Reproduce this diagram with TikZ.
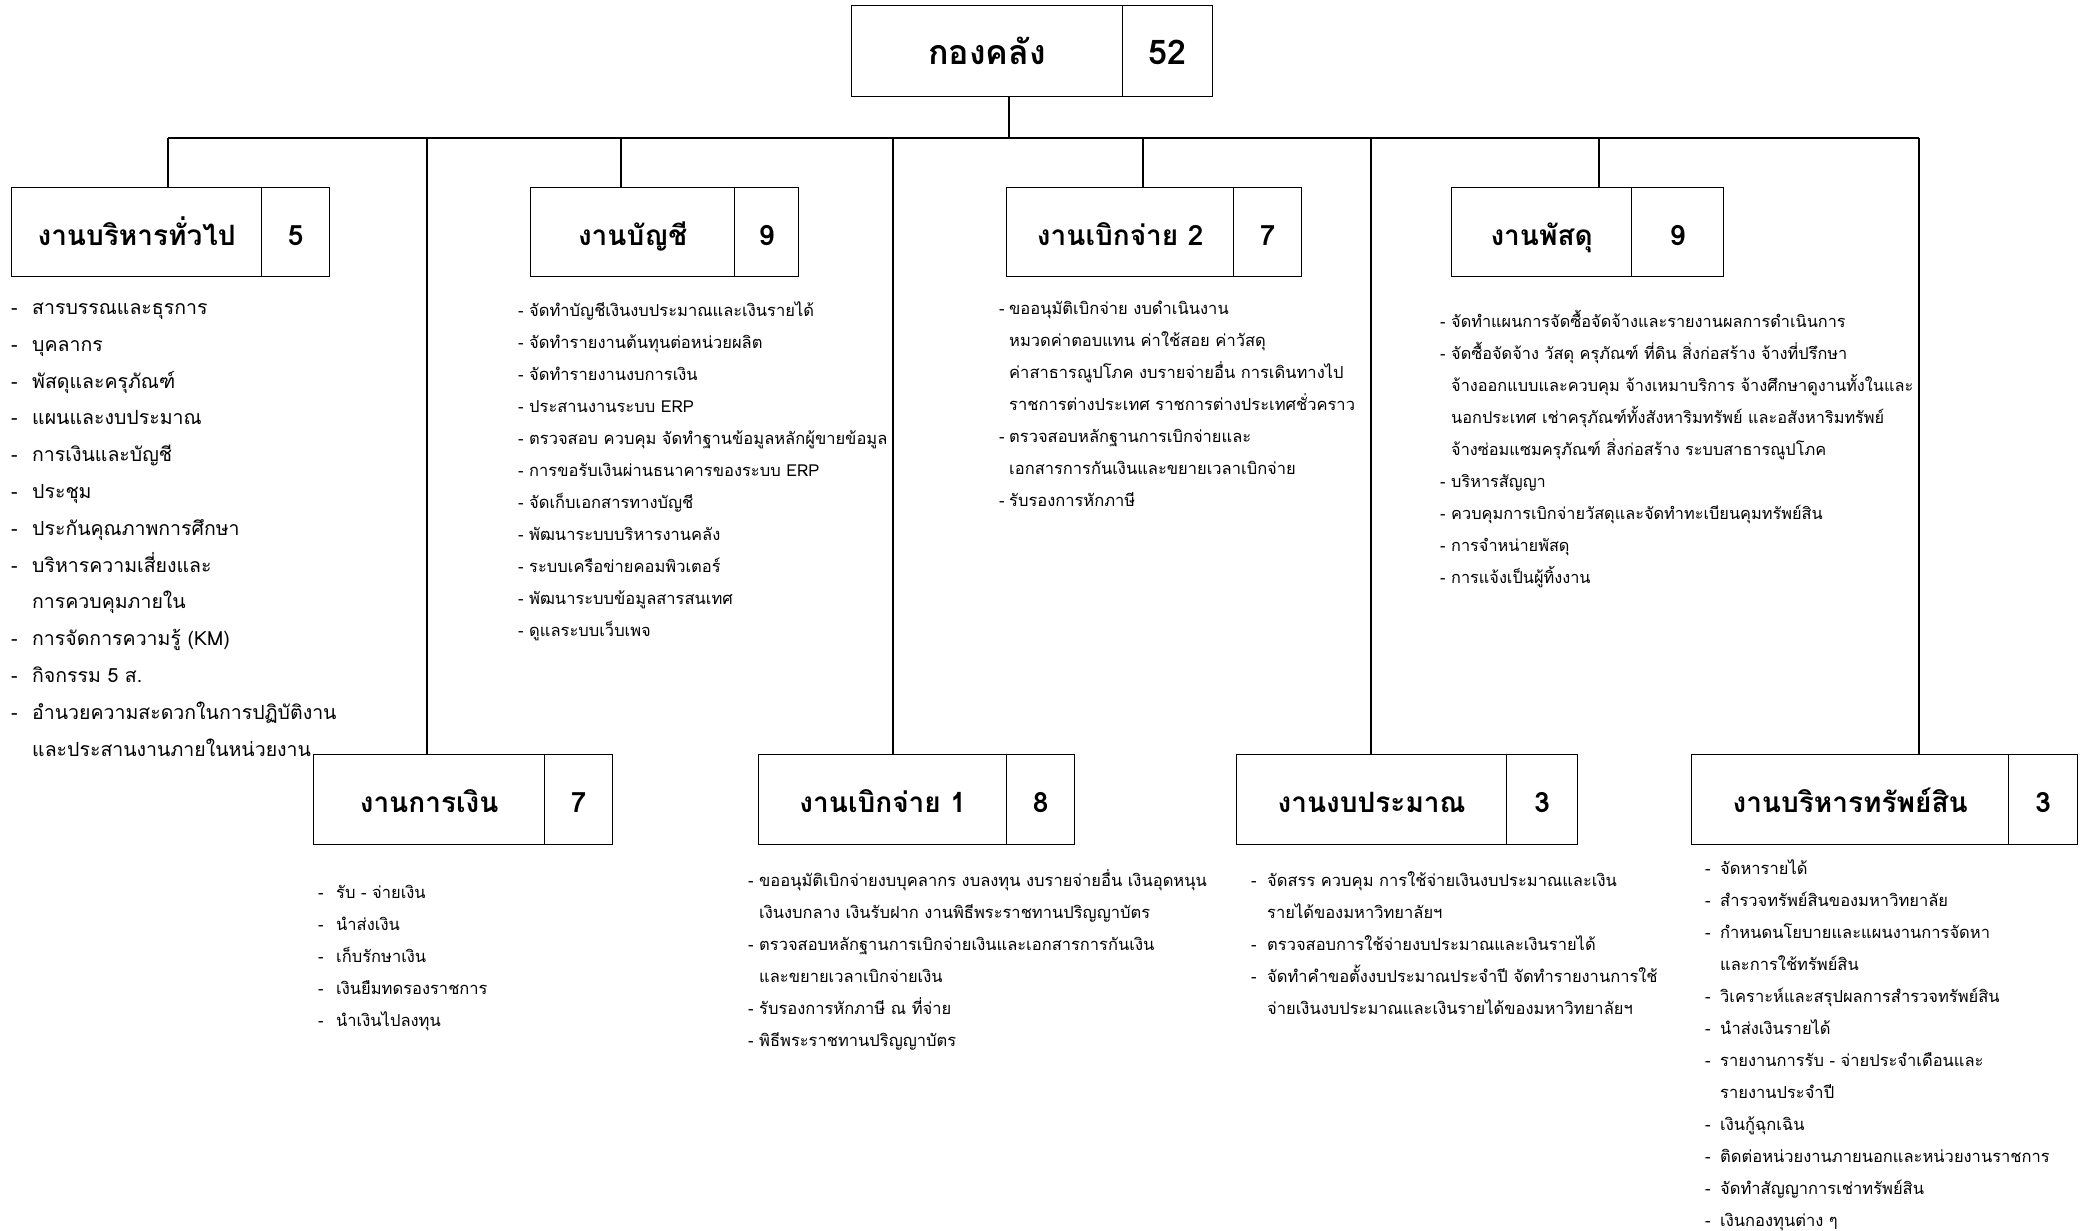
\documentclass[tikz,border=0pt]{standalone}
\usepackage{fontspec}
\setmainfont{Loma}[Script=Thai]
\usepackage{tikz}
\usetikzlibrary{calc}
\newlength{\dashw}
\newcommand{\itm}[1]{\makebox[\dashw][l]{-}#1}
\newcommand{\cnt}[1]{\hspace*{\dashw}#1}
\newcommand{\unitbox}[8]{
  \node[unit, minimum width=#3-#2, minimum height=#6-#5] (#1) at (#2,#5) {#7};
  \node[unit, minimum width=#4-#3, minimum height=#6-#5] (#1n) at (#3,#5) {#8};}
\tikzset{
  unit/.style={draw, line width=1.3pt, inner sep=0pt, anchor=north west,
    text height=26pt, text depth=0pt,
    font=\fontsize{28}{32}\selectfont\bfseries},
  head/.style={unit, text height=28pt, text depth=2pt,
    font=\fontsize{34}{38}\selectfont\bfseries},
  % lists are placed by the baseline of their last line
  duty/.style={inner sep=0pt, anchor=base west, align=left,
    font=\fontsize{16.5}{32}\selectfont,
    execute at begin node={\setlength{\dashw}{#1}}},
  link/.style={line width=1.2pt},
}
\begin{document}
\begin{tikzpicture}[x=1pt,y=-1pt]
  \useasboundingbox (0,0) rectangle (2081,1231);
  % head
  \node[head, minimum width=271, minimum height=91] (top) at (851,5) {กองคลัง};
  \node[head, minimum width=90, minimum height=91] (topn) at (1122,5) {52};
  % top row
  \unitbox{adm}{11}{261}{329}{187}{276}{งานบริหารทั่วไป}{5}
  \unitbox{acc}{530}{734}{798}{187}{276}{งานบัญชี}{9}
  \unitbox{pay2}{1006}{1233}{1301}{187}{276}{งานเบิกจ่าย 2}{7}
  \unitbox{sup}{1451}{1631}{1723}{187}{276}{งานพัสดุ}{9}
  % bottom row
  \unitbox{fin}{313}{544}{612}{754}{844}{งานการเงิน}{7}
  \unitbox{pay1}{758}{1006}{1074}{754}{844}{งานเบิกจ่าย 1}{8}
  \unitbox{bud}{1236}{1506}{1577}{754}{844}{งานงบประมาณ}{3}
  \unitbox{ast}{1691}{2008}{2077}{754}{844}{งานบริหารทรัพย์สิน}{3}

  % lines
  \coordinate (d0) at (1009,138);
  \coordinate (bus0) at (168,138);
  \coordinate (bus1) at (1919,138);
  \draw[link] (d0 |- top.south) -- (d0);
  \draw[link] (bus0) -- (bus1);
  \foreach \u/\x in {adm/168, fin/427, acc/621, pay1/893, pay2/1143, bud/1371, sup/1599, ast/1919}
    {\coordinate (d\u) at (\x,138);
     \draw[link] (d\u) -- (d\u |- \u.north);}

  % lists
  \node[duty=21pt, font=\fontsize{19.5}{36.8}\selectfont] (adml) at (11,756) {%
    \itm{สารบรรณและธุรการ}\\
    \itm{บุคลากร}\\
    \itm{พัสดุและครุภัณฑ์}\\
    \itm{แผนและงบประมาณ}\\
    \itm{การเงินและบัญชี}\\
    \itm{ประชุม}\\
    \itm{ประกันคุณภาพการศึกษา}\\
    \itm{บริหารความเสี่ยงและ}\\
    \cnt{การควบคุมภายใน}\\
    \itm{การจัดการความรู้ (KM)}\\
    \itm{กิจกรรม 5 ส.}\\
    \itm{อำนวยความสะดวกในการปฏิบัติงาน}\\
    \cnt{และประสานงานภายในหน่วยงาน}};
  \node[duty=11pt] (accl) at (518,636) {%
    \itm{จัดทำบัญชีเงินงบประมาณและเงินรายได้}\\
    \itm{จัดทำรายงานต้นทุนต่อหน่วยผลิต}\\
    \itm{จัดทำรายงานงบการเงิน}\\
    \itm{ประสานงานระบบ ERP}\\
    \itm{ตรวจสอบ ควบคุม จัดทำฐานข้อมูลหลักผู้ขายข้อมูล}\\
    \itm{การขอรับเงินผ่านธนาคารของระบบ ERP}\\
    \itm{จัดเก็บเอกสารทางบัญชี}\\
    \itm{พัฒนาระบบบริหารงานคลัง}\\
    \itm{ระบบเครือข่ายคอมพิวเตอร์}\\
    \itm{พัฒนาระบบข้อมูลสารสนเทศ}\\
    \itm{ดูแลระบบเว็บเพจ}};
  \node[duty=10pt] (pay2l) at (999,506) {%
    \itm{ขออนุมัติเบิกจ่าย งบดำเนินงาน}\\
    \cnt{หมวดค่าตอบแทน ค่าใช้สอย ค่าวัสดุ}\\
    \cnt{ค่าสาธารณูปโภค งบรายจ่ายอื่น การเดินทางไป}\\
    \cnt{ราชการต่างประเทศ ราชการต่างประเทศชั่วคราว}\\
    \itm{ตรวจสอบหลักฐานการเบิกจ่ายและ}\\
    \cnt{เอกสารการกันเงินและขยายเวลาเบิกจ่าย}\\
    \itm{รับรองการหักภาษี}};
  \node[duty=11pt, font=\fontsize{16.3}{32}\selectfont] (supl) at (1440,583) {%
    \itm{จัดทำแผนการจัดซื้อจัดจ้างและรายงานผลการดำเนินการ}\\
    \itm{จัดซื้อจัดจ้าง วัสดุ ครุภัณฑ์ ที่ดิน สิ่งก่อสร้าง จ้างที่ปรึกษา}\\
    \cnt{จ้างออกแบบและควบคุม จ้างเหมาบริการ จ้างศึกษาดูงานทั้งในและ}\\
    \cnt{นอกประเทศ เช่าครุภัณฑ์ทั้งสังหาริมทรัพย์ และอสังหาริมทรัพย์}\\
    \cnt{จ้างซ่อมแซมครุภัณฑ์ สิ่งก่อสร้าง ระบบสาธารณูปโภค}\\
    \itm{บริหารสัญญา}\\
    \itm{ควบคุมการเบิกจ่ายวัสดุและจัดทำทะเบียนคุมทรัพย์สิน}\\
    \itm{การจำหน่ายพัสดุ}\\
    \itm{การแจ้งเป็นผู้ทิ้งงาน}};
  \node[duty=18pt] (finl) at (318,1026) {%
    \itm{รับ - จ่ายเงิน}\\
    \itm{นำส่งเงิน}\\
    \itm{เก็บรักษาเงิน}\\
    \itm{เงินยืมทดรองราชการ}\\
    \itm{นำเงินไปลงทุน}};
  \node[duty=11pt] (pay1l) at (748,1046) {%
    \itm{ขออนุมัติเบิกจ่ายงบบุคลากร งบลงทุน งบรายจ่ายอื่น เงินอุดหนุน}\\
    \cnt{เงินงบกลาง เงินรับฝาก งานพิธีพระราชทานปริญญาบัตร}\\
    \itm{ตรวจสอบหลักฐานการเบิกจ่ายเงินและเอกสารการกันเงิน}\\
    \cnt{และขยายเวลาเบิกจ่ายเงิน}\\
    \itm{รับรองการหักภาษี ณ ที่จ่าย}\\
    \itm{พิธีพระราชทานปริญญาบัตร}};
  \node[duty=16pt] (budl) at (1251,1014) {%
    \itm{จัดสรร ควบคุม การใช้จ่ายเงินงบประมาณและเงิน}\\
    \cnt{รายได้ของมหาวิทยาลัยฯ}\\
    \itm{ตรวจสอบการใช้จ่ายงบประมาณและเงินรายได้}\\
    \itm{จัดทำคำขอตั้งงบประมาณประจำปี จัดทำรายงานการใช้}\\
    \cnt{จ่ายเงินงบประมาณและเงินรายได้ของมหาวิทยาลัยฯ}};
  \node[duty=15pt] (astl) at (1705,1226) {%
    \itm{จัดหารายได้}\\
    \itm{สำรวจทรัพย์สินของมหาวิทยาลัย}\\
    \itm{กำหนดนโยบายและแผนงานการจัดหา}\\
    \cnt{และการใช้ทรัพย์สิน}\\
    \itm{วิเคราะห์และสรุปผลการสำรวจทรัพย์สิน}\\
    \itm{นำส่งเงินรายได้}\\
    \itm{รายงานการรับ - จ่ายประจำเดือนและ}\\
    \cnt{รายงานประจำปี}\\
    \itm{เงินกู้ฉุกเฉิน}\\
    \itm{ติดต่อหน่วยงานภายนอกและหน่วยงานราชการ}\\
    \itm{จัดทำสัญญาการเช่าทรัพย์สิน}\\
    \itm{เงินกองทุนต่าง ๆ}};
\end{tikzpicture}
\end{document}
